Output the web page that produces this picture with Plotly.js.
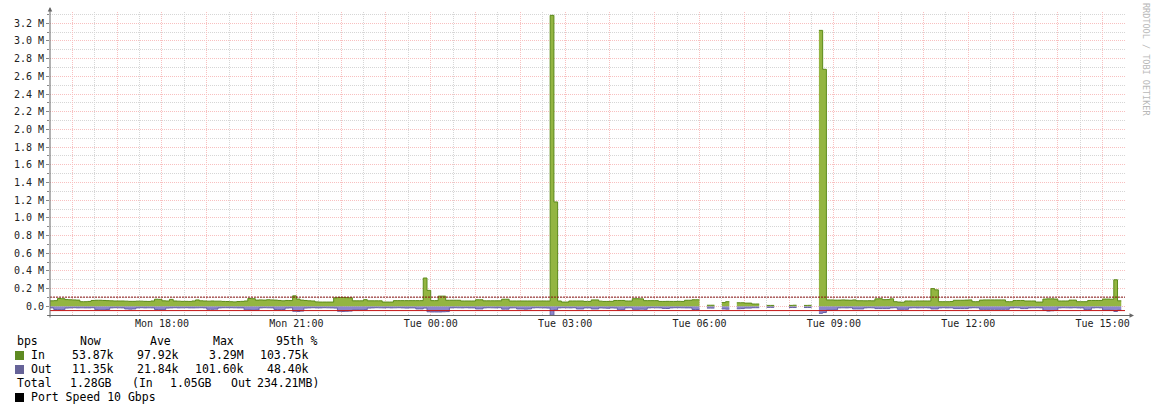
<!DOCTYPE html>
<html><head><meta charset="utf-8">
<script src="https://cdn.plot.ly/plotly-3.0.1.min.js"></script>
<style>html,body{margin:0;padding:0;background:#fff;}#chart{width:1156px;height:411px;}</style>
</head><body><div id="chart"></div>
<script>
// ---- data (kbps per 5-minute sample, starting Mon 15:30) ----
const sampleStartUTC = Date.UTC(2024, 0, 1, 15, 30); // Monday
const stepMinutes = 5;
const inKbps = [
  62,64,88,86,76,74,72,70,52,52,55,66,
  68,68,66,64,62,60,60,60,58,56,56,58,
  58,56,55,60,80,78,62,60,78,60,58,56,
  56,55,60,72,62,60,58,60,58,58,55,54,
  52,50,54,56,60,88,86,70,72,70,74,72,
  70,66,62,66,65,118,82,70,66,62,60,50,
  48,48,48,48,96,100,100,98,96,62,62,62,
  75,62,62,62,62,48,48,48,64,64,64,64,
  64,64,64,64,320,180,64,64,115,115,68,68,
  68,68,60,60,60,60,74,74,62,62,62,62,
  62,80,80,60,60,60,60,60,60,60,60,60,
  60,60,3290,1180,60,48,48,60,60,60,60,55,
  55,72,72,58,55,55,56,66,66,66,60,60,
  86,86,84,64,64,64,64,55,55,56,55,55,
  56,55,68,68,74,74,74,null,12,12,12,null,
  42,52,52,null,40,40,36,36,26,26,26,null,
  10,10,10,null,null,null,10,12,12,null,10,11,
  11,null,3120,2680,72,72,70,70,72,70,68,72,
  63,63,62,63,62,84,86,75,76,84,52,48,
  46,60,60,58,60,60,60,60,200,186,52,52,
  52,54,68,68,68,70,72,52,52,70,72,72,
  72,72,72,72,52,52,66,66,66,60,60,60,
  48,48,82,84,84,82,60,60,60,70,70,52,
  52,52,66,66,66,66,82,82,80,300,62,62
];
const outKbps = [
  18,36,38,38,20,18,16,18,17,18,18,16,
  38,40,42,36,18,16,17,18,30,32,30,18,
  16,18,17,18,36,38,38,20,18,16,18,17,
  16,18,18,17,16,18,34,34,32,18,16,16,
  16,17,18,18,40,42,44,42,18,16,17,18,
  36,38,36,20,18,56,58,54,20,18,16,18,
  18,16,17,18,20,56,58,56,54,40,40,40,
  38,20,18,16,17,18,16,18,17,16,18,20,
  18,18,30,30,20,62,64,64,64,62,60,18,
  16,17,18,16,18,18,30,30,18,16,17,18,
  16,32,32,18,17,30,30,32,30,18,16,17,
  18,20,101.6,40,18,16,17,18,16,30,30,18,
  18,30,30,18,20,22,18,20,40,38,18,17,
  34,34,32,34,18,16,17,18,24,25,18,16,
  16,17,18,18,36,36,36,null,20,20,20,null,
  30,32,32,null,28,26,20,20,16,16,16,null,
  12,12,12,null,null,null,14,14,14,null,14,14,
  14,null,80,70,44,44,40,18,17,18,16,30,
  30,30,18,16,17,26,26,26,26,18,16,34,
  34,34,18,16,18,17,16,18,30,30,18,16,
  18,17,26,26,26,26,18,16,17,34,34,34,
  34,34,34,34,34,18,16,17,26,26,18,17,
  16,18,46,54,50,46,18,16,17,18,16,18,
  18,38,38,18,16,18,44,44,46,58,44,44
];
const pct95InKbps = 103.75;
const pct95OutKbps = 48.40;

const yTickMbps = [0,0.2,0.4,0.6,0.8,1.0,1.2,1.4,1.6,1.8,2.0,2.2,2.4,2.6,2.8,3.0,3.2];
const yTickLabels = ['0.0','0.2 M','0.4 M','0.6 M','0.8 M','1.0 M','1.2 M','1.4 M','1.6 M','1.8 M','2.0 M','2.2 M','2.4 M','2.6 M','2.8 M','3.0 M','3.2 M'];
const xLabelTimes = ['2024-01-01 18:00:00','2024-01-01 21:00:00','2024-01-02 00:00:00','2024-01-02 03:00:00','2024-01-02 06:00:00','2024-01-02 09:00:00','2024-01-02 12:00:00','2024-01-02 15:00:00'];
const xTickLabels = ['Mon 18:00','Mon 21:00','Tue 00:00','Tue 03:00','Tue 06:00','Tue 09:00','Tue 12:00','Tue 15:00'];

const legendHeader = ['bps','Now','Ave','Max','95th %'];
const legendIn = ['In','53.87k','97.92k','3.29M','103.75k'];
const legendOut = ['Out','11.35k','21.84k','101.60k','48.40k'];
const legendTotal = ['Total','1.28GB','(In','1.05GB','Out','234.21MB)'];
const legendPort = 'Port Speed 10 Gbps';
const watermark = 'RRDTOOL / TOBI OETIKER';

// ---- colours ----
const inFill = '#93b541', inLine = '#5b8a1a', inKey = '#5e8a22';
const outFill = '#8c86cc', outLine = '#6660a6', outKey = '#666398';
const majorGrid = '#f8c0c0', minorGrid = '#d6d6d6', axisCol = '#666666';

// ---- helpers ----
const fmt = ms => new Date(ms).toISOString().slice(0,19).replace('T',' ');
const times = inKbps.map((_, i) => fmt(sampleStartUTC + i*stepMinutes*60000));
const rangeStart = fmt(sampleStartUTC);
const rangeEnd = fmt(sampleStartUTC + 24*3600000);

const hourVals = [], hourText = [];
for (let h = 1; h <= 24; h++) {
  const t = fmt(sampleStartUTC + 30*60000 + (h-1)*3600000);
  hourVals.push(t);
  const k = xLabelTimes.indexOf(t);
  hourText.push(k >= 0 ? xTickLabels[k] : '');
}

const W = 1156, H = 411, ML = 50, MR = 31, MT = 12, MB = 95;
const PW = W - ML - MR, PH = H - MT - MB;
const px = x => (x - ML) / PW;
const py = y => (H - MB - y) / PH;

// split a series into contiguous (non-null) runs so each run is filled on its own
function runs(arr) {
  const out = []; let s = -1;
  arr.forEach((v, i) => {
    if (v !== null && s < 0) s = i;
    if ((v === null || i === arr.length - 1) && s >= 0) {
      out.push([s, v === null ? i - 1 : i]); s = -1;
    }
  });
  return out;
}
const traces = [];
function addArea(arr, sign, fillc, linec) {
  runs(arr).forEach(([s, e]) => {
    traces.push({x: times.slice(s, e + 1), y: arr.slice(s, e + 1).map(v => sign * v * 1000),
      type:'scatter', mode:'lines', line:{shape:'hv', color: linec, width:1},
      fill:'tozeroy', fillcolor: fillc, hoverinfo:'skip'});
  });
}
addArea(outKbps, -1, outFill, outLine);
addArea(inKbps, 1, inFill, inLine);
traces.push({x: [rangeStart, rangeEnd], y: [pct95InKbps*1000, pct95InKbps*1000], type:'scatter', mode:'lines',
   line:{color:'#8a0f0f', width:1, dash:'2px,1px'}, hoverinfo:'skip'});
traces.push({x: [rangeStart, rangeEnd], y: [-pct95OutKbps*1000, -pct95OutKbps*1000], type:'scatter', mode:'lines',
   line:{color:'#c41414', width:1}, hoverinfo:'skip'});

const annotations = [];
const mono = 'DejaVu Sans Mono';
function txt(text, x, y, anchor, size, color) {
  annotations.push({text, xref:'paper', yref:'paper', x: px(x), y: py(y), xanchor: anchor, yanchor:'middle',
    showarrow:false, borderpad:0, font:{family: mono, size: size || 11.5, color: color || '#000'}});
}
txt(legendHeader[0], 16, 341, 'left');
txt(legendHeader[1], 79, 341, 'left');
txt(legendHeader[2], 149, 341, 'left');
txt(legendHeader[3], 212, 341, 'left');
txt(legendHeader[4], 275, 341, 'left');
[[legendIn, 355],[legendOut, 369]].forEach(([row, y]) => {
  txt(row[0], 30, y, 'left');
  txt(row[1], 115, y, 'right');
  txt(row[2], 180, y, 'right');
  txt(row[3], 245, y, 'right');
  txt(row[4], 310, y, 'right');
});
txt(legendTotal[0], 16, 383, 'left');
txt(legendTotal[1], 113, 383, 'right');
txt(legendTotal[2], 131, 383, 'left');
txt(legendTotal[3], 213, 383, 'right');
txt(legendTotal[4], 230, 383, 'left');
txt(legendTotal[5], 320, 383, 'right');
txt(legendPort, 30, 397, 'left');
annotations.push({text: watermark, xref:'paper', yref:'paper', x: px(1146), y: py(59), xanchor:'center', yanchor:'middle',
  textangle: 90, showarrow:false, font:{family: mono, size: 8.5, color:'#b8b8b8'}});
annotations.push({text:'', xref:'paper', yref:'paper', x: px(50), y: py(7), showarrow:true, ax:0, ay:312,
  arrowhead:2, arrowsize:0.9, arrowwidth:1, arrowcolor: axisCol, standoff:0});
annotations.push({text:'', xref:'paper', yref:'paper', x: px(1134), y: py(315.5), showarrow:true, ax:-1088, ay:0,
  arrowhead:2, arrowsize:0.9, arrowwidth:1, arrowcolor: axisCol, standoff:0});

const shapes = [
  {type:'rect', xref:'paper', yref:'paper', x0: px(15), x1: px(24), y0: py(351), y1: py(360), fillcolor: inKey, line:{width:0}},
  {type:'rect', xref:'paper', yref:'paper', x0: px(15), x1: px(24), y0: py(365), y1: py(374), fillcolor: outKey, line:{width:0}},
  {type:'rect', xref:'paper', yref:'paper', x0: px(15), x1: px(24), y0: py(393), y1: py(402), fillcolor: '#000', line:{width:0}}
];

const layout = {
  width: W, height: H, margin:{l:ML, r:MR, t:MT, b:MB, pad:0},
  paper_bgcolor:'#fff', plot_bgcolor:'#fff', showlegend:false,
  font:{family: mono, size:10, color:'#222'},
  xaxis:{type:'date', range:[rangeStart, rangeEnd], tickmode:'array', tickvals: hourVals, ticktext: hourText,
    showgrid:true, gridcolor: majorGrid, gridwidth:1, griddash:'1px,1px', ticks:'', showline:false, zeroline:false,
    tickfont:{family: mono, size:10, color:'#222'},
    minor:{tick0:'2024-01-01 00:00:00', dtick:1800000, showgrid:true, gridcolor: minorGrid, gridwidth:1, griddash:'1px,1px'}},
  yaxis:{range:[-109700, 3327800], tickmode:'array', tickvals: yTickMbps.map(v => v*1e6), ticktext: yTickLabels,
    showgrid:true, gridcolor: majorGrid, gridwidth:1, griddash:'1px,1px', ticks:'outside', ticklen:3, tickcolor:'#888',
    showline:false, zeroline:false, tickfont:{family: mono, size:10, color:'#222'},
    minor:{tick0:0, dtick:100000, showgrid:true, gridcolor: minorGrid, gridwidth:1, griddash:'1px,1px', ticks:'outside', ticklen:2, tickcolor:'#888'}},
  annotations, shapes
};

Plotly.newPlot('chart', traces, layout, {staticPlot:true, displayModeBar:false});
</script></body></html>
